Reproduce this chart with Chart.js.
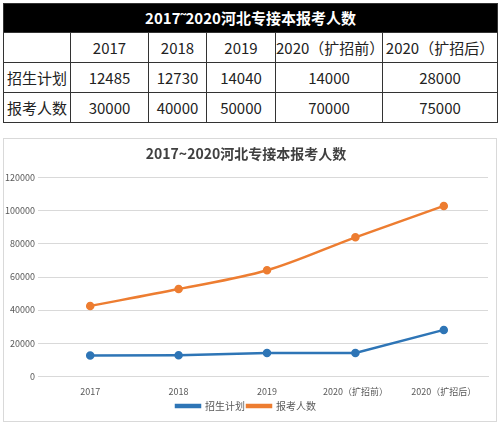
<!DOCTYPE html>
<html>
<head>
<meta charset="utf-8">
<script src="https://cdn.jsdelivr.net/npm/chart.js@4"></script>
<style>
  body { margin: 0; width: 500px; height: 425px; background: #fff; position: relative; font-family: "Noto Sans CJK SC", sans-serif; }
  table { position: absolute; left: 3px; top: 3px; width: 494px; border-collapse: collapse; table-layout: fixed; }
  td, th { border: 1px solid #333; text-align: center; font-size: 15px; color: #222; font-weight: normal; height: 29px; padding: 0; line-height: 20px; }
  th.title { background: #000; color: #fff; font-weight: bold; font-size: 15px; height: 28px; }
  #box { position: absolute; left: 3px; top: 138px; width: 494px; height: 284px; border: 1px solid #d9d9d9; box-sizing: border-box; }
</style>
</head>
<body>
<table id="tbl"></table>
<div id="box"><canvas id="myChart"></canvas></div>
<script>
const title = '2017~2020河北专接本报考人数'
const categories = ['2017', '2018', '2019', '2020（扩招前）', '2020（扩招后）']
const plan = [12485, 12730, 14040, 14000, 28000]
const applicants = [30000, 40000, 50000, 70000, 75000]
const colWidths = [67, 78, 58, 69, 107, 115]

// table
var tbl = document.getElementById('tbl')
var html = '<colgroup>' + colWidths.map(w => '<col style="width:' + w + 'px">').join('') + '</colgroup>'
html += '<tr><th class="title" colspan="6">' + title.replace('~', '˜') + '</th></tr>'
html += '<tr><td></td>' + categories.map(c => '<td>' + c + '</td>').join('') + '</tr>'
html += '<tr><td>招生计划</td>' + plan.map(v => '<td>' + v + '</td>').join('') + '</tr>'
html += '<tr><td>报考人数</td>' + applicants.map(v => '<td>' + v + '</td>').join('') + '</tr>'
tbl.innerHTML = html

// chart (Excel stacked line: orange sits on top of blue)
const config = {
  type: 'line',
  data: {
    labels: categories,
    datasets: [
      { label: '招生计划', data: plan, borderColor: '#2e75b6', backgroundColor: '#2e75b6', borderWidth: 2.5, pointRadius: 3, stack: 's' },
      { label: '报考人数', data: applicants, borderColor: '#ed7d31', backgroundColor: '#ed7d31', borderWidth: 2.5, pointRadius: 3, stack: 's', cubicInterpolationMode: 'monotone' }
    ]
  },
  options: {
    responsive: true,
    maintainAspectRatio: false,
    animation: false,
    layout: { padding: { left: 0, right: 8, top: 4, bottom: 0 } },
    plugins: {
      title: { display: true, text: title, color: '#404040', font: { size: 14, weight: 'bold', family: 'Noto Sans CJK SC' }, padding: { top: 2, bottom: 16 } },
      legend: { position: 'bottom', labels: { boxWidth: 24, boxHeight: 2, color: '#595959', font: { size: 10 }, padding: 2 } }
    },
    scales: {
      x: { offset: true, grid: { display: false }, border: { color: '#d9d9d9' }, ticks: { color: '#595959', font: { size: 9 }, maxRotation: 0, autoSkip: false, padding: 2 } },
      y: {
        stacked: true, min: 0, max: 120000,
        ticks: { stepSize: 20000, color: '#595959', font: { size: 9 }, callback: v => String(v) },
        grid: { color: '#d9d9d9' }, border: { display: false },
        afterFit: function (s) { s.width = 42 }
      }
    }
  }
}
Chart.defaults.font.family = 'Noto Sans CJK SC'
var myChart = new Chart(document.getElementById('myChart'), config)
</script>
</body>
</html>
